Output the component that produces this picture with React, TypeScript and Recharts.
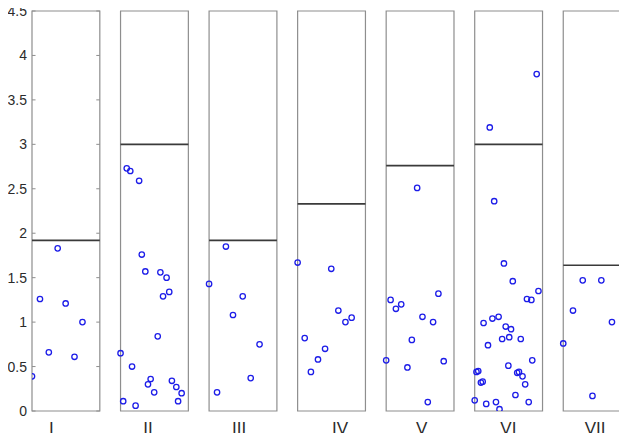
import React from "react";
import {
  ScatterChart,
  Scatter,
  XAxis,
  YAxis,
  ReferenceArea,
  ReferenceLine,
} from "recharts";

// groups, label positions, threshold per group
const groups = ["I", "II", "III", "IV", "V", "VI", "VII"];
const labelPos = [0.22, 1.31, 2.34, 3.48, 4.4, 5.38, 6.36];
const thresholds = [1.92, 3.0, 1.92, 2.33, 2.76, 3.0, 1.64];
const yTicks = [0, 0.5, 1, 1.5, 2, 2.5, 3, 3.5, 4, 4.5];
const BOX_W = 0.766;

// [x, y] per group, x in box units (box k starts at k)
const ptsI = [
  [0.0, 0.39], [0.09, 1.26], [0.19, 0.66], [0.29, 1.83], [0.38, 1.21], [0.48, 0.61], [0.57, 1.0],
];
const ptsII = [
  [1.07, 2.73], [1.11, 2.7], [1.21, 2.59], [1.24, 1.76], [1.28, 1.57], [1.45, 1.56], [1.52, 1.5],
  [1.55, 1.34], [1.48, 1.29], [1.42, 0.84], [1.0, 0.65], [1.13, 0.5], [1.34, 0.36], [1.31, 0.3],
  [1.38, 0.21], [1.58, 0.34], [1.63, 0.27], [1.69, 0.2], [1.65, 0.11], [1.03, 0.11], [1.17, 0.06],
];
const ptsIII = [
  [2.19, 1.85], [2.0, 1.43], [2.27, 1.08], [2.09, 0.21], [2.38, 1.29], [2.57, 0.75], [2.47, 0.37],
];
const ptsIV = [
  [3.0, 1.67], [3.38, 1.6], [3.46, 1.13], [3.61, 1.05], [3.54, 1.0], [3.08, 0.82], [3.31, 0.7],
  [3.23, 0.58], [3.15, 0.44],
];
const ptsV = [
  [4.35, 2.51], [4.05, 1.25], [4.17, 1.2], [4.11, 1.15], [4.59, 1.32], [4.41, 1.06], [4.53, 1.0],
  [4.29, 0.8], [4.0, 0.57], [4.24, 0.49], [4.65, 0.56], [4.47, 0.1],
];
const ptsVI = [
  [5.7, 3.79], [5.17, 3.19], [5.22, 2.36], [5.33, 1.66], [5.43, 1.46], [5.72, 1.35], [5.59, 1.26],
  [5.64, 1.25], [5.1, 0.99], [5.2, 1.04], [5.27, 1.06], [5.35, 0.95], [5.41, 0.92], [5.31, 0.81],
  [5.39, 0.83], [5.52, 0.81], [5.15, 0.74], [5.65, 0.57], [5.38, 0.51], [5.02, 0.44], [5.04, 0.45],
  [5.07, 0.32], [5.09, 0.33], [5.48, 0.43], [5.5, 0.44], [5.54, 0.39], [5.57, 0.3], [5.46, 0.18],
  [5.0, 0.12], [5.13, 0.08], [5.24, 0.1], [5.28, 0.02], [5.61, 0.1],
];
const ptsVII = [
  [6.22, 1.47], [6.43, 1.47], [6.11, 1.13], [6.55, 1.0], [6.0, 0.76], [6.33, 0.17],
];

const allPts = [ptsI, ptsII, ptsIII, ptsIV, ptsV, ptsVI, ptsVII]
  .flat()
  .map(([x, y]) => ({ x, y }));

const font = "'Liberation Sans', Arial, sans-serif";
const BOX_STROKE = "#8e8e8e";

const Ring = (p: any) => (
  <circle cx={p.cx} cy={p.cy} r={2.7} fill="none" stroke="#1c1ce8" strokeWidth={1.3} />
);

export default function App() {
  // pull the chart over the body margin so the 4.5 label fits at the top
  return (
    <div style={{ width: 627, height: 441, margin: -8, overflow: "hidden", background: "#fff" }}>
      <ScatterChart
        width={627}
        height={441}
        margin={{ top: 11, right: 0, bottom: 0, left: 0 }}
      >
        <XAxis
          type="number"
          dataKey="x"
          domain={[0, 6.72]}
          allowDataOverflow
          ticks={labelPos}
          interval={0}
          tickFormatter={(_v, i) => groups[i]}
          axisLine={false}
          tickLine={false}
          tickSize={0}
          tickMargin={11}
          height={30}
          tick={{ fontSize: 17, fill: "#2b2b2b", fontFamily: font }}
        />
        <YAxis
          type="number"
          dataKey="y"
          domain={[0, 4.5]}
          allowDataOverflow
          ticks={yTicks}
          interval={0}
          width={32}
          axisLine={false}
          tickLine={false}
          tickSize={0}
          tickMargin={5}
          tick={{ fontSize: 14, fill: "#2b2b2b", fontFamily: font }}
        />
        {groups.map((g, k) => (
          <ReferenceArea
            key={`box-${g}`}
            x1={k}
            x2={k + BOX_W}
            y1={0}
            y2={4.5}
            fill="none"
            stroke={BOX_STROKE}
            strokeWidth={1.2}
            ifOverflow="visible"
          />
        ))}
        {yTicks.map((v) => (
          <ReferenceLine
            key={`tl-${v}`}
            segment={[{ x: 0, y: v }, { x: 0.04, y: v }]}
            stroke={BOX_STROKE}
            ifOverflow="visible"
          />
        ))}
        {yTicks.map((v) => (
          <ReferenceLine
            key={`tr-${v}`}
            segment={[{ x: BOX_W - 0.04, y: v }, { x: BOX_W, y: v }]}
            stroke={BOX_STROKE}
            ifOverflow="visible"
          />
        ))}
        {groups.map((g, k) => (
          <ReferenceLine
            key={`thr-${g}`}
            segment={[{ x: k, y: thresholds[k] }, { x: k + BOX_W, y: thresholds[k] }]}
            stroke="#3a3a3a"
            strokeWidth={1.6}
            ifOverflow="visible"
          />
        ))}
        <Scatter data={allPts} shape={Ring} isAnimationActive={false} />
      </ScatterChart>
    </div>
  );
}
